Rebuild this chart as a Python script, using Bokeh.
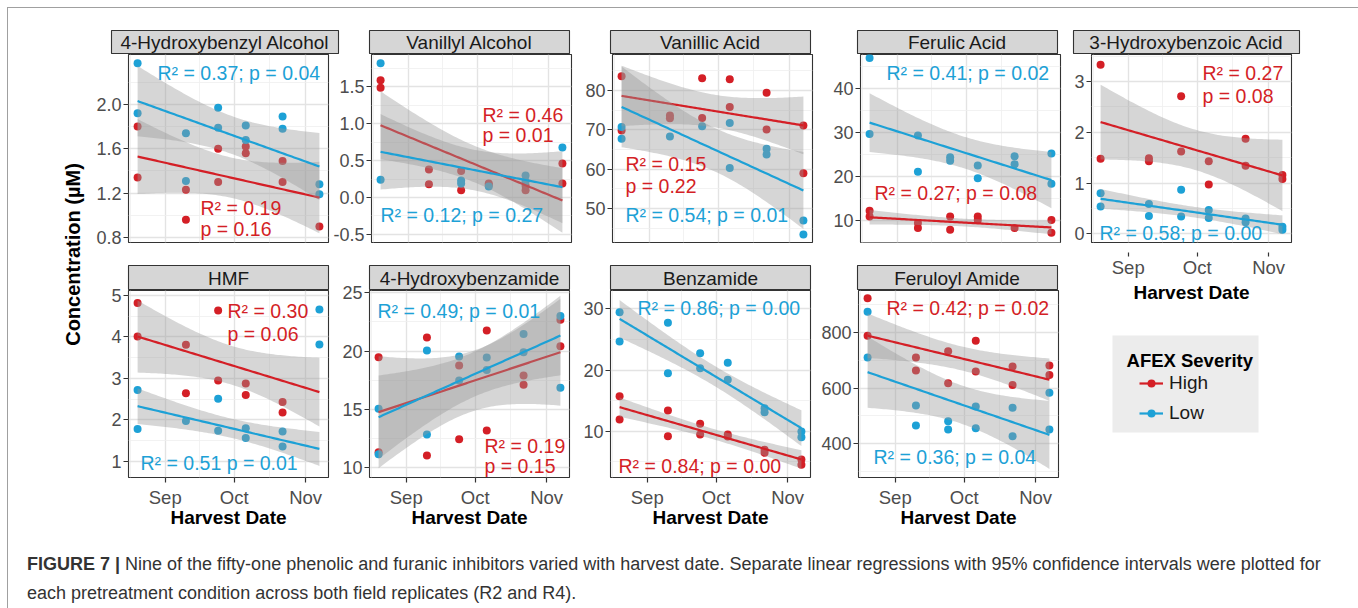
import numpy as np
import pandas as pd
from bokeh.plotting import figure
from bokeh.models import Range1d, FixedTicker, Grid, PrintfTickFormatter, Legend, LegendItem, Div
from bokeh.layouts import row, column
from bokeh.core.properties import value
from bokeh.embed import file_html
from bokeh.resources import INLINE

# ---------------------------------------------------------------- data
harvest_dates = ["2016-08-20", "2016-09-10", "2016-09-24", "2016-10-06", "2016-10-22", "2016-11-07"]
month_ticks = ["2016-09-01", "2016-10-01", "2016-11-01"]
month_labels = ["Sep", "Oct", "Nov"]

compounds = ["4-Hydroxybenzyl Alcohol", "Vanillyl Alcohol", "Vanillic Acid", "Ferulic Acid",
             "3-Hydroxybenzoic Acid", "HMF", "4-Hydroxybenzamide", "Benzamide", "Feruloyl Amide"]

# concentration (uM), two field replicates per harvest date (date order); None = not visible
hb_alcohol_high = [1.80, 1.34, 1.23, 0.96, 1.60, 1.30, 1.62, 1.56, 1.49, 1.30, 0.90, None]
hb_alcohol_low = [2.37, 1.92, 1.74, 1.31, 1.97, 1.79, 1.81, 1.68, 1.89, 1.78, 1.28, 1.19]
va_alcohol_high = [1.59, 1.49, 0.38, 0.18, 0.36, 0.10, 0.19, 0.17, 0.16, 0.10, 0.46, 0.19]
va_alcohol_low = [1.82, 0.24, None, None, 0.23, 0.19, 0.15, None, 0.30, 0.22, 0.68, None]
vanillic_high = [83.6, 69.8, 73.6, 72.9, 83.1, 73.0, 82.8, 75.8, 79.4, 70.1, 71.1, 59.0]
vanillic_low = [70.7, 67.7, 68.3, None, 70.9, None, 71.7, 60.3, 65.2, 63.7, 47.0, 43.4]
ferulic_high = [12.3, 11.0, 9.5, 8.4, 11.0, 8.0, 11.0, 10.2, 8.4, None, 10.2, 7.3]
ferulic_low = [46.8, 29.6, 29.3, 21.1, 24.4, 23.6, 22.5, 19.6, 24.6, 22.8, 25.2, 18.4]
hb_acid_high = [3.33, 1.48, 1.49, 1.43, 2.71, 1.62, 1.43, 0.97, 1.87, 1.34, 1.16, 1.08]
hb_acid_low = [0.80, 0.54, 0.59, 0.35, 0.87, 0.34, 0.47, 0.31, 0.30, 0.23, 0.14, 0.08]
hmf_high = [4.82, 4.01, 3.81, 2.64, 4.64, 2.95, 2.88, 2.60, 2.43, 2.18, None, None]
hmf_low = [2.72, 1.78, 1.97, None, 2.51, 1.74, 1.80, 1.56, 1.72, 1.36, 4.66, 3.82]
hb_amide_high = [19.47, 11.31, 21.16, 11.03, 18.76, 12.43, 21.76, 13.18, 17.9, 17.1, 22.68, 20.41]
hb_amide_low = [15.04, 11.14, 20.04, 12.83, 19.53, 17.47, 19.44, 18.38, 21.47, 19.9, 23.0, 16.84]
benzamide_high = [15.72, 11.9, 13.38, 9.18, 11.2, 9.46, 9.46, 9.13, 6.96, 6.47, 5.38, 4.51]
benzamide_low = [29.45, 24.66, 27.71, 19.48, 22.75, 20.3, 21.17, 18.4, 13.76, 13.1, 9.95, 9.0]
feruloyl_high = [922, 788, 710, 663, 732, 617, 770, 659, 677, 611, 681, 647]
feruloyl_low = [874, 710, 537, 466, 481, 451, 534, 456, 529, 427, 583, 451]

# fitted regression value at first and last harvest date, and 95% CI half-width at the ends
fit_high = [(1.53, 1.16), (0.98, -0.04), (78.6, 71.1), (10.8, 8.5), (2.20, 1.15),
            (4.01, 2.67), (14.75, 19.9), (13.93, 5.38), (788, 630)]
fit_low = [(2.03, 1.44), (0.62, 0.14), (75.8, 54.6), (32.2, 19.2), (0.69, 0.18),
           (2.33, 1.30), (14.32, 21.33), (28.37, 10.49), (657, 432)]
ci_high = [0.33, 0.45, 7.5, 1.6, 0.72, 0.85, 4.7, 1.55, 78]
ci_low = [0.31, 0.50, 10.0, 6.5, 0.19, 0.42, 3.5, 3.0, 125]

r2_high = [0.19, 0.46, 0.15, 0.27, 0.27, 0.30, 0.19, 0.84, 0.42]
p_high = [0.16, 0.01, 0.22, 0.08, 0.08, 0.06, 0.15, 0.00, 0.02]
r2_low = [0.37, 0.12, 0.54, 0.41, 0.58, 0.51, 0.49, 0.86, 0.36]
p_low = [0.04, 0.27, 0.01, 0.02, 0.00, 0.01, 0.01, 0.00, 0.04]

y_ticks = [[0.8, 1.2, 1.6, 2.0], [-0.5, 0.0, 0.5, 1.0, 1.5], [50, 60, 70, 80], [10, 20, 30, 40],
           [0, 1, 2, 3], [1, 2, 3, 4, 5], [10, 15, 20, 25], [10, 20, 30], [400, 600, 800]]
y_limits = [(0.755, 2.45), (-0.61, 1.94), (41.4, 89.1), (5.1, 47.6), (-0.17, 3.53),
            (0.61, 5.12), (9.14, 25.2), (2.43, 33.0), (279, 950)]
y_formats = ["%.1f", "%.1f", "%d", "%d", "%d", "%d", "%d", "%d", "%d"]

series_high = [hb_alcohol_high, va_alcohol_high, vanillic_high, ferulic_high, hb_acid_high,
               hmf_high, hb_amide_high, benzamide_high, feruloyl_high]
series_low = [hb_alcohol_low, va_alcohol_low, vanillic_low, ferulic_low, hb_acid_low,
              hmf_low, hb_amide_low, benzamide_low, feruloyl_low]

# ---------------------------------------------------------------- style / layout
FONT = "Liberation Sans"
RED = "#D41F26"
BLUE = "#1DA1D6"
GRID = "#E3E3E3"
GRID_MINOR = "#EFEFEF"
AXIS_TXT = "#4D4D4D"
TOPPAD = 6  # extra canvas above row-2 panels so top tick labels are not clipped

label_layout = [
    [("low", 0.145, [0.904]), ("high", 0.36, [0.186, 0.074])],
    [("high", 0.555, [0.676, 0.574]), ("low", 0.045, [0.144])],
    [("high", 0.065, [0.415, 0.303]), ("low", 0.065, [0.144])],
    [("low", 0.13, [0.904]), ("high", 0.07, [0.261])],
    [("high", 0.555, [0.904, 0.777]), ("low", 0.04, [0.048])],
    [("high", 0.495, [0.893, 0.765]), ("low", 0.06, [0.075])],
    [("low", 0.04, [0.893]), ("high", 0.575, [0.171, 0.059])],
    [("low", 0.135, [0.904]), ("high", 0.04, [0.064])],
    [("high", 0.14, [0.904]), ("low", 0.075, [0.107])],
]
no_semicolon = {(5, "low")}

base = pd.Timestamp("2016-01-01")


def day(s):
    return float((pd.Timestamp(s) - base).days)


xd = np.array([day(s) for s in harvest_dates])
span = xd[-1] - xd[0]
X0, X1 = xd[0] - 0.05 * span, xd[-1] + 0.05 * span
mt = [day(s) for s in month_ticks]
mstep = float(np.mean(np.diff(mt)))
x_minor = [mt[0] - mstep / 2] + [(a + b) / 2 for a, b in zip(mt[:-1], mt[1:])] + [mt[-1] + mstep / 2]

x_obs = np.repeat(xd, 2)
n_obs = len(x_obs)
xbar = x_obs.mean()
sxx = float(((x_obs - xbar) ** 2).sum())


def se_shape(x):
    return np.sqrt(1.0 / n_obs + (x - xbar) ** 2 / sxx)


def make_panel(k, lb, rb, fh, bottom, xaxis, tick_shift=False, top=0):
    y0, y1 = y_limits[k]
    p = figure(frame_width=200, frame_height=fh, x_range=Range1d(X0, X1), y_range=Range1d(y0, y1),
               toolbar_location=None, output_backend="svg",
               x_axis_location="below" if xaxis else None, y_axis_location="left",
               min_border_left=lb, min_border_right=rb, min_border_top=top, min_border_bottom=bottom,
               outline_line_color="#333333", outline_line_width=1.1,
               background_fill_color="white", border_fill_color="white", border_fill_alpha=0)
    p.center = []
    yt = y_ticks[k]
    ystep = yt[1] - yt[0]
    y_minor = [yt[0] - ystep / 2] + [(a + b) / 2 for a, b in zip(yt[:-1], yt[1:])] + [yt[-1] + ystep / 2]
    p.add_layout(Grid(dimension=0, ticker=FixedTicker(ticks=mt, minor_ticks=x_minor),
                      grid_line_color=GRID, grid_line_width=1.4,
                      minor_grid_line_color=GRID_MINOR, minor_grid_line_width=0.8))
    p.add_layout(Grid(dimension=1, ticker=FixedTicker(ticks=yt, minor_ticks=y_minor),
                      grid_line_color=GRID, grid_line_width=1.4,
                      minor_grid_line_color=GRID_MINOR, minor_grid_line_width=0.8))

    ya = p.yaxis[0]
    ya.ticker = FixedTicker(ticks=yt)
    ya.formatter = PrintfTickFormatter(format=y_formats[k])
    ya.major_label_text_font = FONT
    ya.major_label_text_font_size = "18px"
    ya.major_label_text_color = AXIS_TXT
    ya.major_tick_out = 5
    ya.major_tick_in = 0
    ya.major_tick_line_color = "#333333"
    ya.major_tick_line_width = 1.2
    ya.minor_tick_line_color = None
    ya.axis_line_color = None
    ya.major_label_standoff = 2

    if xaxis:
        xa = p.xaxis[0]
        xa.ticker = FixedTicker(ticks=mt)
        xa.major_label_overrides = {int(t): lab for t, lab in zip(mt, month_labels)}
        xa.major_label_text_font = FONT
        xa.major_label_text_font_size = "18.5px"
        xa.major_label_text_color = AXIS_TXT
        xa.major_tick_line_color = "#333333"
        xa.major_tick_line_width = 1.2
        xa.minor_tick_line_color = None
        xa.axis_line_color = None
        xa.axis_label = "Harvest Date"
        xa.axis_label_text_font = FONT
        xa.axis_label_text_font_style = "bold"
        xa.axis_label_text_font_size = "19px"
        xa.axis_label_text_color = "#000000"
        if tick_shift:
            xa.major_tick_in = -10
            xa.major_tick_out = 14
            xa.major_label_standoff = 0
            xa.axis_label_standoff = 1
        else:
            xa.major_tick_in = 0
            xa.major_tick_out = 5
            xa.major_label_standoff = 4
            xa.axis_label_standoff = -4

    # points
    for vals, col in ((series_high[k], RED), (series_low[k], BLUE)):
        px = [x for x, v in zip(x_obs, vals) if v is not None]
        py = [v for v in vals if v is not None]
        p.scatter(px, py, size=8, fill_color=col, line_color=None)

    # regression bands and lines
    xs = np.linspace(xd[0], xd[-1], 80)
    for (a, b), ci, col in ((fit_high[k], ci_high[k], RED), (fit_low[k], ci_low[k], BLUE)):
        fit = a + (b - a) * (xs - xd[0]) / (xd[-1] - xd[0])
        c = ci / ((se_shape(xd[0]) + se_shape(xd[-1])) / 2)
        h = c * se_shape(xs)
        p.varea(x=xs, y1=fit - h, y2=fit + h, fill_color="#999999", fill_alpha=0.4)
        p.line(xs, fit, line_color=col, line_width=2.2)

    # R^2 / p annotations
    for ser, xf, yfs in label_layout[k]:
        if ser == "high":
            r2, pv, col = r2_high[k], p_high[k], RED
        else:
            r2, pv, col = r2_low[k], p_low[k], BLUE
        if len(yfs) == 2:
            lines = [f"R\u00b2 = {r2:.2f}", f"p = {pv:.2f}"]
        else:
            sep = " " if (k, ser) in no_semicolon else "; "
            lines = [f"R\u00b2 = {r2:.2f}{sep}p = {pv:.2f}"]
        for txt, yf in zip(lines, yfs):
            p.text(x=[X0 + xf * (X1 - X0)], y=[y0 + yf * (y1 - y0)], text=[txt],
                   text_font=value(FONT), text_font_size="19.5px", text_color=col,
                   text_align="left", text_baseline="middle")
    return p


def make_strip(label, lb, fw, rb, top, fh):
    s = figure(frame_width=fw, frame_height=fh, x_range=Range1d(0, 1), y_range=Range1d(0, 1),
               toolbar_location=None, output_backend="svg",
               x_axis_location=None, y_axis_location=None,
               min_border_left=lb, min_border_right=rb, min_border_top=top, min_border_bottom=0,
               background_fill_color="#D6D6D6", outline_line_color="#333333", outline_line_width=1.1,
               border_fill_color="white")
    s.center = []
    s.text(x=[0.5], y=[0.5], text=[label], text_align="center", text_baseline="middle",
           text_font=value(FONT), text_font_size="19px", text_color="#1A1A1A")
    return s


# row 1 (panels 0-3), row 2 (panels 5-8), right column (panel 4 + legend)
strip_r1 = [(23, 227, 12), (19, 200, 21), (20, 200, 30), (17, 200, 5)]
panel_r1 = [(40, 2), (39, 11), (30, 18), (29, 5)]
strip_r2 = [(40, 200, 22), (19, 200, 21), (20, 200, 30), (17, 200, 5)]
panel_r2 = [(40, 2), (39, 11), (30, 8), (39, 5)]

s1 = row(*[make_strip(compounds[i], *strip_r1[i], 22, 24) for i in range(4)])
p1 = row(*[make_panel(i, *panel_r1[i], 188, 23, False) for i in range(4)])
s2 = row(*[make_strip(compounds[5 + i], *strip_r2[i], 0, 25) for i in range(4)])
p2 = row(*[make_panel(5 + i, *panel_r2[i], 187, 60, True, top=TOPPAD) for i in range(4)],
         styles={"margin-top": f"-{TOPPAD}px"})
block = column(s1, p1, s2, p2)

strip5 = make_strip(compounds[4], 8, 226, 54, 22, 24)
panel5 = make_panel(4, 26, 62, 188, 63, True, tick_shift=True)

# legend
lf = figure(frame_width=146, frame_height=97, x_range=Range1d(0, 1), y_range=Range1d(0, 1),
            toolbar_location=None, output_backend="svg", x_axis_location=None, y_axis_location=None,
            min_border_left=47, min_border_right=95, min_border_top=30, min_border_bottom=105,
            background_fill_color="#ECECEC", outline_line_color=None, border_fill_color="white")
lf.center = []
items = []
for lab, col in (("High", RED), ("Low", BLUE)):
    rl = lf.line(x=[-1, -2], y=[-1, -2], line_color=col, line_width=2.2)
    rs = lf.scatter(x=[-1], y=[-1], size=8, fill_color=col, line_color=None)
    items.append(LegendItem(label=lab, renderers=[rl, rs]))
leg = Legend(items=items, location=(27, 8), orientation="vertical", padding=0, margin=0,
             spacing=8, glyph_width=24, glyph_height=20, label_height=20, label_standoff=6,
             label_text_font=FONT, label_text_font_size="19px", label_text_color="#1A1A1A",
             background_fill_alpha=0, border_line_color=None)
lf.add_layout(leg)
lf.text(x=[0.096], y=[0.745], text=["AFEX Severity"], text_align="left", text_baseline="middle",
        text_font=value(FONT), text_font_style="bold", text_font_size="18.5px", text_color="#000000")

# each figure wrapped in its own row so the column does not align their frames
col5 = column(row(strip5), row(panel5), row(lf))

# shared y-axis title
yl = figure(width=80, height=529, x_range=Range1d(0, 1), y_range=Range1d(0, 1),
            toolbar_location=None, output_backend="svg", x_axis_location=None, y_axis_location=None,
            min_border=0, outline_line_color=None)
yl.center = []
yl.text(x=[0.806], y=[0.535], text=["Concentration (\u00b5M)"], angle=np.pi / 2,
        text_align="center", text_baseline="middle", text_font=value(FONT),
        text_font_style="bold", text_font_size="20px", text_color="#000000")

caption_html = (
    '<div style="font-family: \'Liberation Sans\', Arial, sans-serif; font-size:18px; '
    'line-height:29px; color:#333333; white-space:nowrap; padding-left:14px; padding-top:8px;">'
    '<b>FIGURE 7 |</b> Nine of the fifty-one phenolic and furanic inhibitors varied with harvest date. '
    'Separate linear regressions with 95% confidence intervals were plotted for<br>'
    'each pretreatment condition across both field replicates (R2 and R4).</div>'
)
cap = Div(text=caption_html, width=1342, height=63, styles={"overflow": "visible"})

root = column(row(yl, block, col5), cap,
              styles={"border": "1px solid #A0A0A0", "margin-left": "7px", "margin-top": "7px"})

open("out.html", "w").write(file_html(root, INLINE))
